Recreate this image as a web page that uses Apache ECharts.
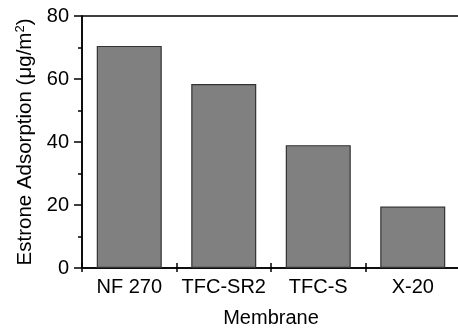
<!DOCTYPE html>
<html>
<head>
<meta charset="utf-8">
<script src="https://cdn.jsdelivr.net/npm/echarts@6/dist/echarts.min.js"></script>
<style>
  html, body { margin: 0; padding: 0; background: #fff; }
  #chart { width: 458px; height: 328px; }
</style>
</head>
<body>
<div id="chart"></div>
<script>
const membranes = ["NF 270", "TFC-SR2", "TFC-S", "X-20"];
const adsorption = [70.5, 58.4, 39.0, 19.5];

const FONT = "Liberation Sans";
const chart = echarts.init(document.getElementById("chart"));

// extra bottom axes only draw ticks (crossing ticks at boundaries, inner ticks at centres)
const tickAxis = (inside, align, len) => ({
    type: "category",
    data: membranes,
    position: "bottom",
    axisLine: { show: false },
    axisLabel: { show: false },
    axisTick: { show: true, inside: inside, alignWithLabel: align, length: len, lineStyle: { color: "#000", width: 1.5 } },
    splitLine: { show: false }
});

chart.setOption({
    backgroundColor: "#fff",
    animation: false,
    grid: {
        left: 82, top: 16, right: -2, bottom: 60,
        outerBoundsMode: "none",
        show: true, borderColor: "#000", borderWidth: 1.5
    },
    xAxis: [
        {
            type: "category",
            data: membranes,
            name: "Membrane",
            nameLocation: "middle",
            nameGap: 40,
            nameTextStyle: { fontFamily: FONT, fontSize: 20, color: "#000" },
            axisLine: { lineStyle: { color: "#000", width: 1.5 } },
            axisTick: { show: true, inside: false, length: 4, lineStyle: { color: "#000", width: 1.5 } },
            axisLabel: { interval: 0, fontFamily: FONT, fontSize: 20, color: "#000", margin: 9 }
        },
        tickAxis(true, false, 5),
        tickAxis(true, true, 4)
    ],
    yAxis: {
        type: "value",
        min: 0, max: 80, interval: 20,
        name: "{a|Estrone Adsorption (\u03bcg/m}{s|2}{a|)}",
        nameLocation: "middle",
        nameGap: 46,
        nameTextStyle: {
            rich: {
                a: { fontFamily: FONT, fontSize: 20.5, color: "#000" },
                s: { fontFamily: FONT, fontSize: 13, color: "#000", verticalAlign: "top", padding: [0, 0, 9, 0] }
            }
        },
        axisLine: { show: true, lineStyle: { color: "#000", width: 1.5 } },
        axisTick: { show: true, inside: false, length: 8, lineStyle: { color: "#000", width: 1.5 } },
        minorTick: { show: true, splitNumber: 2, length: 4, lineStyle: { color: "#000", width: 1.5 } },
        splitLine: { show: false },
        axisLabel: { fontFamily: FONT, fontSize: 20, color: "#000", margin: 13 }
    },
    series: [{
        type: "bar",
        data: adsorption,
        barWidth: 65,
        itemStyle: { color: "#808080", borderColor: "#333", borderWidth: 1.2 }
    }]
});
</script>
</body>
</html>
